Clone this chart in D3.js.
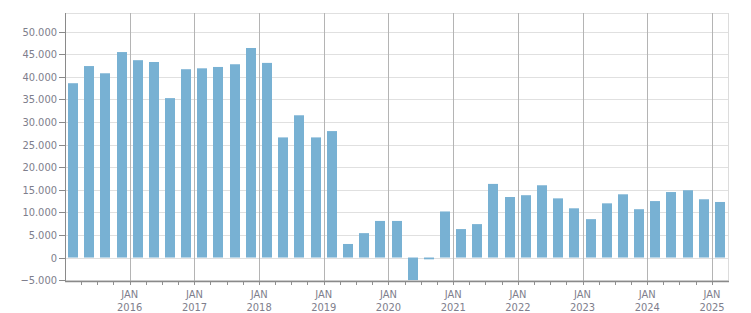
<!DOCTYPE html>
<html>
<head>
<meta charset="utf-8">
<script src="https://cdn.jsdelivr.net/npm/d3@7"></script>
<style>
  body { margin: 0; background: #fff; }
  svg text { font-family: "DejaVu Sans Condensed", "DejaVu Sans", sans-serif; font-size: 11px; fill: #7e7e8c; }
</style>
</head>
<body>
<svg id="chart" width="751" height="313"></svg>
<script>
// quarterly values, Q1 2015 .. Q1 2025
var startYear = 2015;
var values = [
    38600, 42400, 40800, 45500,
    43700, 43300, 35300, 41700,
    41900, 42200, 42800, 46400,
    43100, 26600, 31500, 26600,
    28000, 3000, 5400, 8100,
    8100, -5000, -400, 10200,
    6300, 7400, 16300, 13400,
    13800, 16000, 13100, 10900,
    8500, 12000, 14000, 10700,
    12500, 14500, 14900, 12900,
    12300
];
var yTicks = [-5000, 0, 5000, 10000, 15000, 20000, 25000, 30000, 35000, 40000, 45000, 50000];
var yearTicks = [2016, 2017, 2018, 2019, 2020, 2021, 2022, 2023, 2024, 2025];

var quarters = values.map(function(v, i) {
    return { start: new Date(startYear + Math.floor(i / 4), (i % 4) * 3, 1),
             end: new Date(startYear + Math.floor((i + 1) / 4), ((i + 1) % 4) * 3, 1),
             value: v };
});

// plot box (window.top is reserved, so use a margin object)
var box = {left: 65, right: 728, top: 13, bottom: 281};

var x = d3.scaleTime()
    .domain([new Date(2015, 0, 1), new Date(2025, 3, 1)])
    .range([box.left, box.right]);
var y = d3.scaleLinear()
    .domain([-5200, 54150])
    .range([box.bottom, box.top]);

var svg = d3.select("#chart");
var fmt = function(d) { return d3.format(",")(d).replace(/,/g, "."); };
var px = function(v) { return Math.round(v) + 0.5; };

// horizontal grid
svg.append("g").selectAll("line")
    .data(yTicks)
    .enter().append("line")
    .attr("x1", box.left).attr("x2", box.right)
    .attr("y1", function(d) { return px(y(d)); })
    .attr("y2", function(d) { return px(y(d)); })
    .style("stroke", "#e0e0e0");

// top and right border
svg.append("line").attr("x1", box.left).attr("x2", box.right).attr("y1", box.top + 0.5).attr("y2", box.top + 0.5).style("stroke", "#e0e0e0");
svg.append("line").attr("x1", box.right + 0.5).attr("x2", box.right + 0.5).attr("y1", box.top).attr("y2", box.bottom).style("stroke", "#dcdcdc");

// year grid lines
svg.append("g").selectAll("line")
    .data(yearTicks)
    .enter().append("line")
    .attr("x1", function(d) { return px(x(new Date(d, 0, 1))); })
    .attr("x2", function(d) { return px(x(new Date(d, 0, 1))); })
    .attr("y1", box.top).attr("y2", box.bottom + 4)
    .style("stroke", "#b4b4b4");

// bars
svg.append("g").selectAll("rect")
    .data(quarters)
    .enter().append("rect")
    .attr("x", function(d) { return Math.round(x(new Date((+d.start + +d.end) / 2)) - 5); })
    .attr("width", 10)
    .attr("y", function(d) { return y(Math.max(0, d.value)); })
    .attr("height", function(d) { return Math.abs(y(d.value) - y(0)); })
    .style("fill", "#78b1d3");

// quarter minor ticks
svg.append("g").selectAll("line")
    .data(quarters.slice(1))
    .enter().append("line")
    .attr("x1", function(d) { return px(x(d.start)); })
    .attr("x2", function(d) { return px(x(d.start)); })
    .attr("y1", box.bottom).attr("y2", box.bottom + 4)
    .style("stroke", "#909090");

// axes lines
svg.append("line").attr("x1", box.left + 0.5).attr("x2", box.left + 0.5).attr("y1", box.top).attr("y2", box.bottom + 1).style("stroke", "#8a8a8a");
svg.append("line").attr("x1", box.left).attr("x2", box.right + 1).attr("y1", box.bottom + 0.5).attr("y2", box.bottom + 0.5).style("stroke", "#8a8a8a").style("stroke-width", 1.5);

// y ticks + labels
var yg = svg.append("g").selectAll("g")
    .data(yTicks)
    .enter().append("g")
    .attr("transform", function(d) { return "translate(0," + px(y(d)) + ")"; });
yg.append("line").attr("x1", box.left - 6).attr("x2", box.left).style("stroke", "#8a8a8a");
yg.append("text")
    .attr("x", box.left - 8).attr("dy", "0.35em")
    .attr("text-anchor", "end")
    .text(fmt);

// x labels
var xg = svg.append("g").selectAll("text")
    .data(yearTicks)
    .enter().append("text")
    .attr("x", function(d) { return x(new Date(d, 0, 1)); })
    .attr("y", 298)
    .attr("text-anchor", "middle");
xg.append("tspan").attr("x", function(d) { return x(new Date(d, 0, 1)); }).text("JAN");
xg.append("tspan").attr("x", function(d) { return x(new Date(d, 0, 1)); }).attr("dy", 12.5).text(function(d) { return d; });
</script>
</body>
</html>
